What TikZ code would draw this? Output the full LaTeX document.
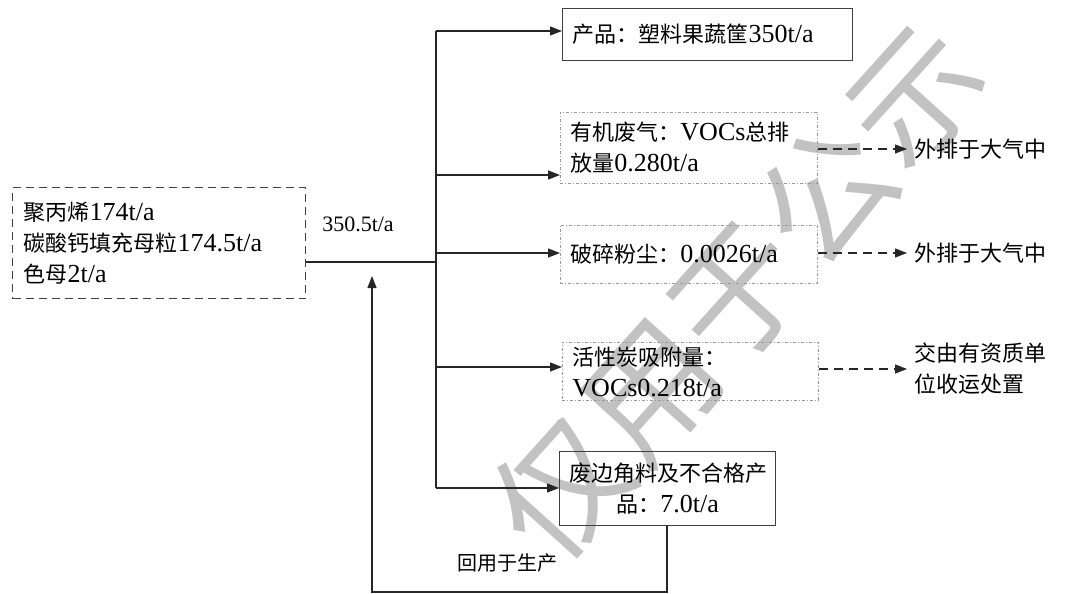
\documentclass[tikz,border=0pt]{standalone}
\usepackage{fontspec}
\setmainfont{Liberation Serif}
\newfontfamily\cjk{Noto Sans CJK SC}
\usetikzlibrary{arrows.meta}
\newcommand{\zhf}{\cjk\fontsize{22}{31}\selectfont}
\newcommand{\latf}{\fontsize{26}{31}\selectfont}
\begin{document}
\begin{tikzpicture}[x=1pt,y=-1pt,
  line/.style={draw=black!85, line width=1.3pt},
  arr/.style={line, -{Triangle[length=12pt,width=9pt]}},
  darr/.style={arr, dash pattern=on 9pt off 6pt},
  basebox/.style={anchor=north west, inner xsep=10pt, inner ysep=0pt, font=\latf, align=left},
  solidbox/.style={basebox, draw=black!75, line width=1.3pt},
  dotbox/.style={basebox, draw=black!40, line width=0.9pt, dash pattern=on 3pt off 2pt on 1pt off 2pt},
  srcbox/.style={basebox, draw=black!75, line width=1.3pt, dash pattern=on 8pt off 5pt},
  outtext/.style={anchor=west, inner xsep=7pt, inner ysep=0pt, font=\zhf, align=left},
  wm/.style={text=black!24, font=\cjk\fontsize{132}{132}\selectfont}
]
\useasboundingbox (0,0) rectangle (1073,594);
% watermark
\node[wm, rotate=48] (wmark) at (738,292) {仅用于公示};

% boxes
\node[srcbox, minimum width=291pt, minimum height=111pt, text width=271pt, inner xsep=11pt] (src) at (12,187)
  {{\zhf 聚丙烯}174t/a\\{\zhf 碳酸钙填充母粒}174.5t/a\\{\zhf 色母}2t/a};
\node[solidbox, minimum width=290pt, minimum height=52pt, text width=270pt] (prod) at (562,8)
  {{\zhf 产品：塑料果蔬筐}350t/a};
\node[dotbox, minimum width=257pt, minimum height=71pt, text width=237pt] (voc) at (560,112)
  {{\zhf 有机废气：}VOCs{\zhf 总排}\\{\zhf 放量}0.280t/a};
\node[dotbox, minimum width=257pt, minimum height=58pt, text width=237pt] (dust) at (560,225)
  {{\zhf 破碎粉尘：}0.0026t/a};
\node[dotbox, minimum width=256pt, minimum height=58pt, text width=236pt] (ac) at (562,342)
  {{\zhf 活性炭吸附量：}\\VOCs0.218t/a};
\node[solidbox, minimum width=216pt, minimum height=74pt, text width=196pt, align=center] (scrap) at (559,451)
  {{\zhf 废边角料及不合格产}\\{\zhf 品：}7.0t/a};

% outputs
\node[outtext] (o1) at (907,149) {外排于大气中};
\node[outtext] (o2) at (907,253) {外排于大气中};
\node[outtext] (o3) at (907,369) {交由有资质单\\位收运处置};

% labels
\node[font=\fontsize{22}{26}\selectfont] (lbl) at (358,224) {350.5t/a};
\node[font=\cjk\fontsize{20}{24}\selectfont] (reuse) at (507,563) {回用于生产};

% trunk coordinates
\coordinate (J) at (436,262);
\coordinate (T) at (436,31);
\coordinate (B2) at (436,175);
\coordinate (B3) at (436,253);
\coordinate (B4) at (436,367);
\coordinate (B) at (436,488);
\coordinate (R1) at (667,592);
\coordinate (R2) at (372,592);
\coordinate (R3) at (372,276);

\draw[line] (src.east |- J) -- (J);
\draw[line] (T) -- (B);
\draw[arr] (T) -- (prod.west |- T);
\draw[arr] (B2) -- (voc.west |- B2);
\draw[arr] (B3) -- (dust.west |- B3);
\draw[arr] (B4) -- (ac.west |- B4);
\draw[arr] (B) -- (scrap.west |- B);

\draw[darr] (voc.east |- o1) -- (o1.west);
\draw[darr] (dust.east |- o2) -- (o2.west);
\draw[darr] (ac.east |- o3) -- (o3.west);

\draw[arr] (scrap.south -| R1) -- (R1) -- (R2) -- (R3);
\end{tikzpicture}
\end{document}
